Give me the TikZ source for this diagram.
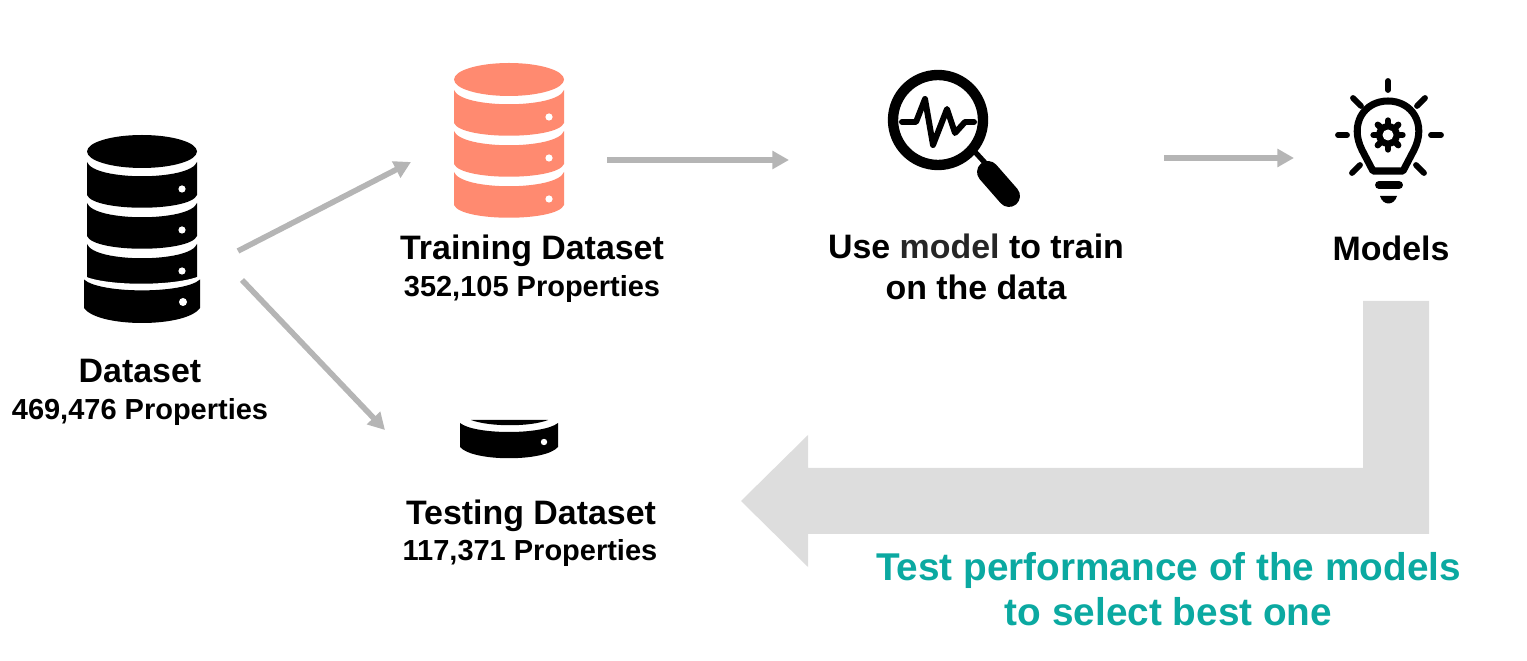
\documentclass[tikz,border=0pt]{standalone}
\usepackage{fontspec}
\setmainfont{Liberation Sans}
\usetikzlibrary{arrows.meta}
\definecolor{dbred}{HTML}{FF8A70}
\definecolor{flowgray}{HTML}{B5B5B5}
\definecolor{backgray}{HTML}{DDDDDD}
\definecolor{testteal}{HTML}{0BA9A1}
\definecolor{modelgray}{HTML}{262626}
\tikzset{
  title/.style={font=\fontsize{19.3}{23.2}\selectfont\bfseries, align=center, inner sep=0pt},
  counttext/.style={font=\fontsize{16.5}{20}\selectfont\bfseries, inner sep=0pt},
  noteteal/.style={font=\fontsize{22.05}{26}\selectfont\bfseries, align=center, inner sep=0pt, text=testteal},
  flow/.style={draw=flowgray, line width=3.2pt, -{Stealth[length=9.5pt,width=10pt,inset=0pt]}},
  icon/.style={line width=#1, line cap=round, line join=round},
  dbicon/.pic={
    \fill[pic actions] (0,16.5) ellipse [x radius=55, y radius=16.5];
    \foreach \k in {0,1,2} {
      \fill[pic actions] (-55,{27+41*\k}) .. controls (-48,{46+41*\k}) and (48,{46+41*\k}) .. (55,{27+41*\k})
        -- (55,{60+41*\k}) .. controls (48,{77+41*\k}) and (-48,{77+41*\k}) .. (-55,{60+41*\k}) -- cycle;
      \fill[white] (40,{54+41*\k}) circle [radius=3.6];
    }
  }
}
\begin{document}
\begin{tikzpicture}[x=0.02cm,y=-0.02cm]
  \useasboundingbox (0,0) rectangle (1527,661);
  % back arrow
  \fill[backgray] (1363,301) -- (1429,301) -- (1429,534) -- (808,534) -- (808,567) -- (741,501)
    -- (808,435) -- (808,468) -- (1363,468) -- cycle;
  % full dataset, bottom slice sits lower and wider
  \pic[fill=black] at (142,135) {dbicon};
  \fill[white] (80,274) .. controls (100,287) and (182,287) .. (204,274) -- (204,330) -- (80,330) -- cycle;
  \fill (84,279.5) .. controls (100,294) and (184,294) .. (200,279.5) -- (200,308)
    .. controls (186,328) and (98,328) .. (84,308) -- cycle;
  \fill[white] (183,302) circle [radius=4];
  % training dataset
  \pic[fill=dbred] at (509,63) {dbicon};
  % testing dataset
  \fill (471,420) .. controls (490,427) and (530,427) .. (548,420) -- cycle;
  \fill (460,423) .. controls (475,435) and (543,435) .. (558,423) -- (558,447)
    .. controls (545,462) and (473,462) .. (460,447) -- cycle;
  \fill[white] (544,442) circle [radius=3.2];
  % magnifier
  \draw[line width=5.9pt] (938,120) circle [radius=45];
  \draw[icon=3pt] (976,153) -- (987,165);
  \draw[icon=12.5pt] (988,172) -- (1009,196);
  \draw[icon=3.4pt] (902,122) -- (916,122) -- (925,99) -- (933,145) -- (947,109) -- (955,133)
    -- (965,122) -- (974,122);
  % bulb
  \draw[icon=4pt] (1373,171) -- (1362,150) .. controls (1349,124) and (1364,101) .. (1388,101)
    .. controls (1412,101) and (1427,124) .. (1414,150) -- (1403,171) -- cycle;
  \foreach \a/\b/\c/\d in {1388/81/1388/90, 1338/135/1347/135, 1431/135/1441/135, 1353/98/1361/106,
    1425/98/1417/106, 1352/173/1360/165, 1424/173/1416/165} {
    \draw[icon=3.3pt] (\a,\b) -- (\c,\d);
  }
  \foreach \a in {0,45,...,315} {
    \draw[line width=3.6pt, line cap=round] (1388,135) ++(\a:9) -- ++(\a:5.5);
  }
  \fill (1388,135) circle [radius=12];
  \fill[white] (1388,135) circle [radius=5.5];
  \draw[icon=4.5pt] (1379,185) -- (1399,185);
  \fill (1380,196) .. controls (1383,206) and (1394,206) .. (1397,196) -- cycle;
  % labels
  \node[title, anchor=base] (dataset) at (140,383) {Dataset};
  \node[counttext, anchor=base] (datasetcount) at (140,420) {469,476 Properties};
  \node[title, anchor=base] (training) at (532,260) {Training Dataset};
  \node[counttext, anchor=base] (trainingcount) at (532,297) {352,105 Properties};
  \node[title] (usemodel) at (976,267) {Use {\color{modelgray}model} to train\\on the data};
  \node[title, anchor=base] (models) at (1391,261) {Models};
  \node[title, anchor=base] (testing) at (531,524) {Testing Dataset};
  \node[counttext, anchor=base] (testingcount) at (530,561) {117,371 Properties};
  \node[noteteal] (testnote) at (1168.5,589) {Test performance of the models\\to select best one};
  % flow ends
  \coordinate (splitup) at (238,251);
  \coordinate (splitdown) at (242,280);
  \coordinate (trainin) at (411,162);
  \coordinate (testin) at (385,430);
  \coordinate (trainout) at (607,160);
  \coordinate (modelin) at (789,160);
  \coordinate (modelout) at (1164,158);
  \coordinate (bulbin) at (1294,158);
  \draw[flow] (splitup) -- (trainin);
  \draw[flow] (splitdown) -- (testin);
  \draw[flow] (trainout) -- (modelin);
  \draw[flow] (modelout) -- (bulbin);
\end{tikzpicture}
\end{document}
